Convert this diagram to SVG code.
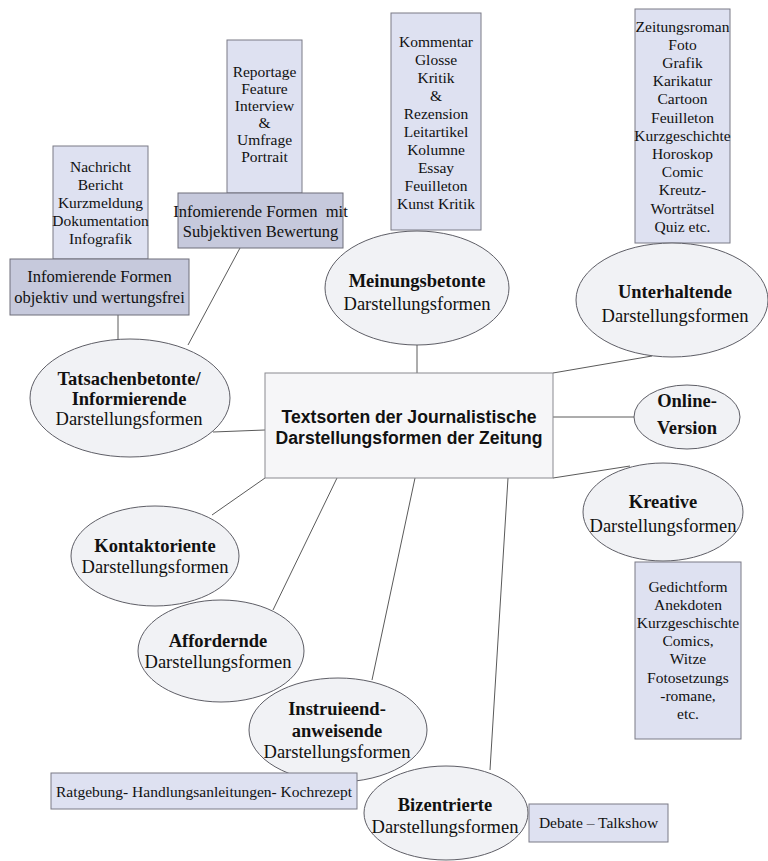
<svg xmlns="http://www.w3.org/2000/svg" width="768" height="861" viewBox="0 0 768 861">
<style>
.bg{fill:#ffffff}
.list{fill:#dee1f1;stroke:#7a7a86;stroke-width:1}
.head{fill:#c6c9dc;stroke:#6e6e7a;stroke-width:1}
.ell{fill:#f1f2f5;stroke:#5e5e66;stroke-width:1}
.main{fill:#f6f6f8;stroke:#8a8a90;stroke-width:1}
.conn line{stroke:#5a5a5a;stroke-width:1}
text{font-family:"Liberation Serif","Times New Roman",serif;fill:#111;text-anchor:middle}
.l{font-size:15.5px}
.h{font-size:16.5px}
.e{font-size:18.5px}
.b{font-weight:bold}
.c{font-family:"Liberation Sans",Arial,sans-serif;font-weight:bold;font-size:17.6px}
</style>
<rect class="bg" x="0" y="0" width="768" height="861"/>
<g class="conn" id="connectors">
<line x1="118" y1="315" x2="118" y2="340"/>
<line x1="240" y1="248" x2="188" y2="345"/>
<line x1="213" y1="432" x2="265" y2="430"/>
<line x1="417" y1="345" x2="417" y2="373"/>
<line x1="553" y1="373" x2="652" y2="356"/>
<line x1="553" y1="417" x2="634" y2="417"/>
<line x1="553" y1="478" x2="630" y2="466"/>
<line x1="265" y1="478" x2="212" y2="515"/>
<line x1="337" y1="478" x2="273" y2="610"/>
<line x1="415" y1="478" x2="372" y2="680"/>
<line x1="508" y1="478" x2="490" y2="770"/>
</g>
<g id="list-tatsachen">
<rect class="list" x="53" y="146" width="95" height="113"/>
<text class="l" x="100.5" y="172">Nachricht</text>
<text class="l" x="100.5" y="190">Bericht</text>
<text class="l" x="100.5" y="208">Kurzmeldung</text>
<text class="l" x="100.5" y="226">Dokumentation</text>
<text class="l" x="100.5" y="244">Infografik</text>
</g>
<g id="head-objektiv">
<rect class="head" x="10" y="259" width="179" height="56"/>
<text class="h" x="99.5" y="282">Infomierende Formen</text>
<text class="h" x="99.5" y="303">objektiv und wertungsfrei</text>
</g>
<g id="list-subjektiv">
<rect class="list" x="227" y="40" width="75" height="153"/>
<text class="l" x="264.5" y="77">Reportage</text>
<text class="l" x="264.5" y="94">Feature</text>
<text class="l" x="264.5" y="111">Interview</text>
<text class="l" x="264.5" y="128">&amp;</text>
<text class="l" x="264.5" y="145">Umfrage</text>
<text class="l" x="264.5" y="162">Portrait</text>
</g>
<g id="head-subjektiv">
<rect class="head" x="178" y="193" width="165" height="55"/>
<text class="h" x="260.5" y="217" xml:space="preserve">Infomierende Formen  mit</text>
<text class="h" x="260.5" y="237">Subjektiven Bewertung</text>
</g>
<g id="node-tatsachen">
<ellipse class="ell" cx="130" cy="398" rx="100" ry="59"/>
<text class="e b" x="129" y="385">Tatsachenbetonte/</text>
<text class="e b" x="129" y="405">Informierende</text>
<text class="e" x="129" y="425">Darstellungsformen</text>
</g>
<g id="list-meinung">
<rect class="list" x="391" y="13" width="90" height="217"/>
<text class="l" x="436" y="47">Kommentar</text>
<text class="l" x="436" y="65">Glosse</text>
<text class="l" x="436" y="83">Kritik</text>
<text class="l" x="436" y="101">&amp;</text>
<text class="l" x="436" y="119">Rezension</text>
<text class="l" x="436" y="137">Leitartikel</text>
<text class="l" x="436" y="155">Kolumne</text>
<text class="l" x="436" y="173">Essay</text>
<text class="l" x="436" y="191">Feuilleton</text>
<text class="l" x="436" y="209">Kunst Kritik</text>
</g>
<g id="node-meinung">
<ellipse class="ell" cx="417" cy="288" rx="92" ry="57"/>
<text class="e b" x="417" y="287">Meinungsbetonte</text>
<text class="e" x="417" y="310">Darstellungsformen</text>
</g>
<g id="list-unterhaltung">
<rect class="list" x="635" y="9" width="95" height="234"/>
<text class="l" x="682.5" y="32">Zeitungsroman</text>
<text class="l" x="682.5" y="50">Foto</text>
<text class="l" x="682.5" y="68">Grafik</text>
<text class="l" x="682.5" y="86">Karikatur</text>
<text class="l" x="682.5" y="104">Cartoon</text>
<text class="l" x="682.5" y="123">Feuilleton</text>
<text class="l" x="682.5" y="141">Kurzgeschichte</text>
<text class="l" x="682.5" y="159">Horoskop</text>
<text class="l" x="682.5" y="177">Comic</text>
<text class="l" x="682.5" y="195">Kreutz-</text>
<text class="l" x="682.5" y="214">Worträtsel</text>
<text class="l" x="682.5" y="232">Quiz etc.</text>
</g>
<g id="node-unterhaltend">
<ellipse class="ell" cx="672" cy="300" rx="96" ry="57"/>
<text class="e b" x="675" y="298">Unterhaltende</text>
<text class="e" x="675" y="322">Darstellungsformen</text>
</g>
<g id="node-central">
<rect class="main" x="265" y="373" width="288" height="105"/>
<text class="c" x="409" y="423">Textsorten der Journalistische</text>
<text class="c" x="409" y="444">Darstellungsformen der Zeitung</text>
</g>
<g id="node-online">
<ellipse class="ell" cx="687" cy="417" rx="53" ry="32"/>
<text class="e b" x="687" y="407">Online-</text>
<text class="e b" x="687" y="434">Version</text>
</g>
<g id="node-kreativ">
<ellipse class="ell" cx="663" cy="512" rx="80" ry="49"/>
<text class="e b" x="663" y="508">Kreative</text>
<text class="e" x="663" y="532">Darstellungsformen</text>
</g>
<g id="list-kreativ">
<rect class="list" x="635" y="562" width="106" height="177"/>
<text class="l" x="688" y="592">Gedichtform</text>
<text class="l" x="688" y="610">Anekdoten</text>
<text class="l" x="688" y="628">Kurzgeschischte</text>
<text class="l" x="688" y="646">Comics,</text>
<text class="l" x="688" y="664">Witze</text>
<text class="l" x="688" y="683">Fotosetzungs</text>
<text class="l" x="688" y="701">-romane,</text>
<text class="l" x="688" y="719">etc.</text>
</g>
<g id="node-kontakt">
<ellipse class="ell" cx="155" cy="556" rx="84" ry="50"/>
<text class="e b" x="155" y="552">Kontaktoriente</text>
<text class="e" x="155" y="573">Darstellungsformen</text>
</g>
<g id="node-auffordernd">
<ellipse class="ell" cx="221" cy="651" rx="83" ry="51"/>
<text class="e b" x="218" y="647">Affordernde</text>
<text class="e" x="218" y="668">Darstellungsformen</text>
</g>
<g id="node-instruierend">
<ellipse class="ell" cx="338" cy="730" rx="89" ry="52"/>
<text class="e b" x="337" y="715">Instruieend-</text>
<text class="e b" x="337" y="737">anweisende</text>
<text class="e" x="337" y="758">Darstellungsformen</text>
</g>
<g id="list-instruierend">
<rect class="list" x="51" y="773" width="306" height="36"/>
<text class="l" x="204" y="797">Ratgebung- Handlungsanleitungen- Kochrezept</text>
</g>
<g id="node-bizentriert">
<ellipse class="ell" cx="446" cy="813" rx="82" ry="47"/>
<text class="e b" x="445" y="811">Bizentrierte</text>
<text class="e" x="445" y="833">Darstellungsformen</text>
</g>
<g id="list-bizentriert">
<rect class="list" x="529" y="804" width="139" height="38"/>
<text class="l" x="598.5" y="828">Debate – Talkshow</text>
</g>
</svg>
